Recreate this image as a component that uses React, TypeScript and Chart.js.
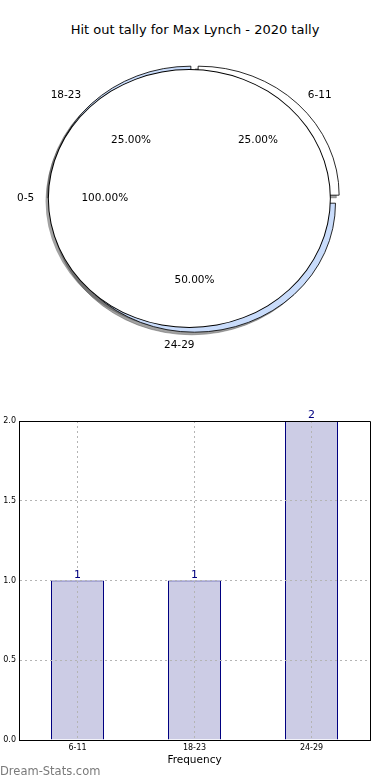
import React, { useEffect, useRef } from 'react';
import { Chart, registerables } from 'chart.js';

Chart.register(...registerables);

const TITLE = 'Hit out tally for Max Lynch - 2020 tally';
const WATERMARK = 'Dream-Stats.com';

// exploded wedges (matplotlib order: counter-clockwise from 3 o'clock)
const pieCategories = ['6-11', '18-23', '24-29'];
const pieValues = [1, 1, 2];
const pieColors = ['#ffffff', '#c9dcfb', '#c9dcfb'];

// full-circle overlay pie
const fullCategories = ['0-5'];
const fullValues = [1];
const fullColors = ['#ffffff'];

// bar chart
const barCategories = ['6-11', '18-23', '24-29'];
const barValues = [1, 1, 2];
const yTickValues = [0, 0.5, 1, 1.5, 2];
const X_TITLE = 'Frequency';

const FONT = "'DejaVu Sans', sans-serif";
const RY = 129;
const SX = 141 / 129;
const EXPLODE = 4.7;
const SHADOW_SHIFT = 2000;

function sum(a: number[]) {
  return a.reduce((s, v) => s + v, 0);
}

function ellipseTransform(ctx: CanvasRenderingContext2D, chart: any) {
  const a = chart.chartArea;
  const cx = (a.left + a.right) / 2;
  const cy = (a.top + a.bottom) / 2;
  ctx.translate(cx, cy);
  ctx.scale(SX, 1);
  ctx.translate(-cx, -cy);
}

function explodeTranslate(ctx: CanvasRenderingContext2D, el: any) {
  const mid = (el.startAngle + el.endAngle) / 2;
  ctx.translate(Math.cos(mid) * EXPLODE, Math.sin(mid) * EXPLODE);
}

// draw only the drop shadows of the given arc elements (shape is drawn off-canvas)
function drawShadows(ctx: CanvasRenderingContext2D, chart: any, els: any[]) {
  ctx.save();
  ctx.translate(-SHADOW_SHIFT, 0);
  ellipseTransform(ctx, chart);
  ctx.shadowColor = 'rgba(70,70,70,0.5)';
  ctx.shadowOffsetX = SHADOW_SHIFT - 2.8;
  ctx.shadowOffsetY = 2.6;
  ctx.shadowBlur = 0;
  els.forEach((el) => {
    ctx.save();
    explodeTranslate(ctx, el);
    el.draw(ctx);
    ctx.restore();
  });
  ctx.restore();
}

function drawPieLabels(ctx: CanvasRenderingContext2D, src: any) {
  const a = src.chartArea;
  const cx = (a.left + a.right) / 2;
  const meta = src.getDatasetMeta(0);
  const labels = src.data.labels as string[];
  const values = src.data.datasets[0].data as number[];
  const total = sum(values);
  ctx.save();
  ctx.fillStyle = '#000';
  ctx.font = `10.5px ${FONT}`;
  ctx.textBaseline = 'middle';
  meta.data.forEach((el: any, i: number) => {
    const { x, y, startAngle, endAngle, outerRadius } = el;
    const mid = (startAngle + endAngle) / 2;
    const ox = x + Math.cos(mid) * EXPLODE;
    const oy = y + Math.sin(mid) * EXPLODE;
    const px = (r: number) => cx + (ox + Math.cos(mid) * r - cx) * SX;
    const py = (r: number) => oy + Math.sin(mid) * r;
    ctx.textAlign = Math.cos(mid) > 1e-9 ? 'left' : 'right';
    ctx.fillText(labels[i], px(1.1 * outerRadius), py(1.1 * outerRadius));
    ctx.textAlign = 'center';
    ctx.fillText(((values[i] / total) * 100).toFixed(2) + '%', px(0.6 * outerRadius), py(0.6 * outerRadius));
  });
  ctx.restore();
}

export default function App() {
  const pieRef = useRef<HTMLCanvasElement>(null);
  const fullRef = useRef<HTMLCanvasElement>(null);
  const barRef = useRef<HTMLCanvasElement>(null);

  useEffect(() => {
    // Chart.js draws clockwise; reverse so the layout matches the counter-clockwise original
    const order = pieCategories.map((_, i) => pieCategories.length - 1 - i);
    const wLabels = order.map((i) => pieCategories[i]);
    const wValues = order.map((i) => pieValues[i]);
    const wColors = order.map((i) => pieColors[i]);

    const holder: { full: any; pie: any } = { full: null, pie: null };

    const commonPie = {
      animation: false as const,
      responsive: false,
      events: [] as any[],
      radius: RY,
      rotation: 90,
      layout: { padding: { top: 27, left: 0, right: 1, bottom: 0 } },
      plugins: { legend: { display: false }, tooltip: { enabled: false }, title: { display: false } },
    };

    const pie = new Chart(pieRef.current!, {
      type: 'pie',
      data: {
        labels: wLabels,
        datasets: [
          {
            data: wValues,
            backgroundColor: wColors,
            borderColor: '#000',
            borderWidth: 0.8,
            clip: false,
          } as any,
        ],
      },
      options: commonPie as any,
      plugins: [
        {
          id: 'explodedWedges',
          beforeDatasetsDraw(chart: any) {
            const ctx = chart.ctx;
            const els = chart.getDatasetMeta(0).data;
            const fullEls = holder.full ? holder.full.getDatasetMeta(0).data : [];
            drawShadows(ctx, chart, [...els, ...fullEls]);
            ctx.save();
            ellipseTransform(ctx, chart);
            els.forEach((el: any) => {
              ctx.save();
              explodeTranslate(ctx, el);
              el.draw(ctx);
              ctx.restore();
            });
            ctx.restore();
            return false;
          },
        },
      ],
    });
    holder.pie = pie;

    const full = new Chart(fullRef.current!, {
      type: 'pie',
      data: {
        labels: fullCategories,
        datasets: [
          {
            data: fullValues,
            backgroundColor: fullColors,
            borderWidth: 0,
            clip: false,
          } as any,
        ],
      },
      options: commonPie as any,
      plugins: [
        {
          id: 'fullCircle',
          beforeDatasetsDraw(chart: any) {
            const ctx = chart.ctx;
            ctx.save();
            ellipseTransform(ctx, chart);
            chart.getDatasetMeta(0).data.forEach((el: any) => {
              const r0 = el.outerRadius;
              const opts = el.options;
              ctx.save();
              explodeTranslate(ctx, el);
              // outline: dark disc slightly larger, then the filled disc
              el.outerRadius = r0 + 0.45;
              el.options = { ...opts, backgroundColor: '#000', borderWidth: 0, offset: 0, spacing: 0, circular: true };
              el.draw(ctx);
              el.outerRadius = r0 - 0.45;
              el.options = opts;
              el.draw(ctx);
              el.outerRadius = r0;
              ctx.restore();
            });
            ctx.restore();
            return false;
          },
          afterDraw(chart: any) {
            if (holder.pie) drawPieLabels(chart.ctx, holder.pie);
            drawPieLabels(chart.ctx, chart);
          },
        },
      ],
    });
    holder.full = full;
    pie.draw();

    const bar = new Chart(barRef.current!, {
      type: 'bar',
      data: {
        labels: barCategories,
        datasets: [
          {
            data: barValues,
            backgroundColor: '#ccccE5',
            borderColor: '#000080',
            borderWidth: 1,
            barPercentage: 53 / 117,
            categoryPercentage: 1,
            inflateAmount: 0,
          },
        ],
      },
      options: {
        animation: false,
        responsive: false,
        events: [],
        layout: { padding: { top: 31, right: 20, left: 0, bottom: 13 } },
        plugins: { legend: { display: false }, tooltip: { enabled: false } },
        scales: {
          x: {
            offset: true,
            grid: { offset: false, color: '#b4b4b4', lineWidth: 1, drawTicks: false, z: 1 },
            border: { color: '#000', width: 1, dash: [2, 3], z: 2 },
            ticks: { font: { family: FONT, size: 8 }, color: '#000', padding: 3 },
            title: { display: true, text: X_TITLE, font: { family: FONT, size: 10.5 }, color: '#000', padding: 0 },
            afterFit: (s: any) => {
              s.height = 27;
            },
          },
          y: {
            min: yTickValues[0],
            max: yTickValues[yTickValues.length - 1],
            grid: { color: '#b4b4b4', lineWidth: 1, drawTicks: false, z: 1 },
            border: { color: '#000', width: 1, dash: [2, 3], z: 2 },
            ticks: {
              stepSize: yTickValues[1] - yTickValues[0],
              font: { family: FONT, size: 8 },
              color: '#000',
              padding: 3,
              callback: (v: any) => Number(v).toFixed(1),
            },
            afterFit: (s: any) => {
              s.width = 19;
            },
          },
        },
      } as any,
      plugins: [
        {
          id: 'frameAndLabels',
          afterDraw(chart: any) {
            const { ctx, chartArea: a } = chart;
            ctx.save();
            ctx.strokeStyle = '#000';
            ctx.lineWidth = 1;
            ctx.beginPath();
            ctx.moveTo(Math.round(a.left) + 0.5, Math.round(a.top) + 0.5);
            ctx.lineTo(Math.round(a.right) + 0.5, Math.round(a.top) + 0.5);
            ctx.lineTo(Math.round(a.right) + 0.5, Math.round(a.bottom) + 0.5);
            ctx.stroke();
            const meta = chart.getDatasetMeta(0);
            ctx.fillStyle = '#000080';
            ctx.font = `11px ${FONT}`;
            ctx.textAlign = 'center';
            ctx.textBaseline = 'alphabetic';
            meta.data.forEach((el: any, i: number) => {
              ctx.fillText(String(barValues[i]), el.x, el.y - 3);
            });
            ctx.restore();
          },
        },
      ],
    });

    return () => {
      pie.destroy();
      full.destroy();
      bar.destroy();
    };
  }, []);

  return (
    <div style={{ position: 'absolute', left: 0, top: 0, width: 390, height: 780, background: '#fff', overflow: 'hidden' }}>
      <div
        style={{
          position: 'absolute',
          top: 22,
          left: 0,
          width: 390,
          textAlign: 'center',
          font: `13px ${FONT}`,
          lineHeight: '16px',
          color: '#000',
        }}
      >
        {TITLE}
      </div>
      <canvas ref={pieRef} width={390} height={370} style={{ position: 'absolute', left: 0, top: 0 }} />
      <canvas ref={fullRef} width={390} height={370} style={{ position: 'absolute', left: 0, top: 0 }} />
      <canvas ref={barRef} width={390} height={390} style={{ position: 'absolute', left: 0, top: 390 }} />
      <div
        style={{
          position: 'absolute',
          left: 0,
          top: 764,
          font: `11.5px ${FONT}`,
          lineHeight: '14px',
          color: '#7a7a7a',
        }}
      >
        {WATERMARK}
      </div>
    </div>
  );
}
